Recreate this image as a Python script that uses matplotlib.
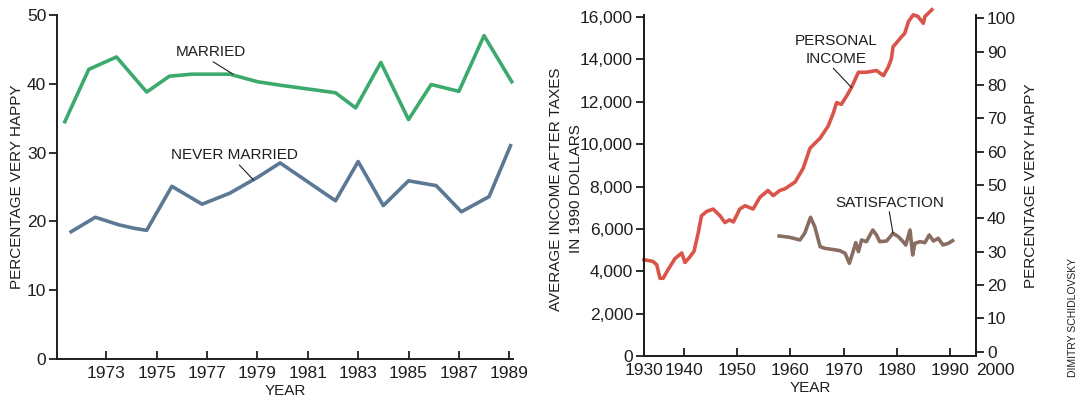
import matplotlib
matplotlib.use('Agg')
import matplotlib.pyplot as plt

plt.rcParams['font.family'] = ['Liberation Sans', 'DejaVu Sans']

# ---------------- data ----------------
married_years = [1971.35, 1972.3, 1973.4, 1974.6, 1975.5, 1976.4, 1977.9, 1979.0, 1979.9,
                 1982.1, 1982.9, 1983.9, 1985.0, 1985.9, 1987.0, 1988.0, 1989.1]
married = [34.5, 42.1, 43.9, 38.8, 41.1, 41.4, 41.4, 40.3, 39.8,
           38.7, 36.5, 43.1, 34.8, 39.9, 38.9, 47.0, 40.3]

never_years = [1971.6, 1972.56, 1973.5, 1974.1, 1974.6, 1975.6, 1976.8, 1977.9, 1979.0,
               1979.9, 1982.1, 1983.0, 1984.0, 1985.0, 1986.1, 1987.1, 1988.2, 1989.05]
never_married = [18.5, 20.6, 19.5, 19.0, 18.7, 25.1, 22.5, 24.1, 26.4,
                 28.5, 23.0, 28.7, 22.3, 25.9, 25.2, 21.4, 23.6, 31.0]

left_xticks = [1973, 1975, 1977, 1979, 1981, 1983, 1985, 1987, 1989]
left_yticks = [0, 10, 20, 30, 40, 50]

income_years = [1932.5, 1934.2, 1934.9, 1935.5, 1936.1, 1937.0, 1938.3, 1939.6, 1940.2, 1941.1,
                1941.9, 1942.7, 1943.3, 1944.3, 1945.5, 1946.8, 1947.7, 1948.6, 1949.3, 1950.5,
                1951.5, 1953.0, 1954.3, 1955.8, 1956.8, 1958.0, 1959.0, 1960.9, 1962.4, 1963.7,
                1965.6, 1967.1, 1968.1, 1968.7, 1969.6, 1970.6, 1971.5, 1972.8, 1974.3, 1976.2,
                1977.5, 1978.4, 1979.0, 1979.3, 1980.9, 1981.5, 1982.2, 1983.1, 1984.0, 1985.0,
                1985.3, 1986.6]
income = [4545, 4464, 4306, 3670, 3670, 4067, 4593, 4866, 4416, 4675,
          4943, 5823, 6617, 6828, 6938, 6617, 6301, 6426, 6330, 6938,
          7096, 6938, 7498, 7813, 7574, 7813, 7895, 8215, 8852, 9809,
          10287, 10847, 11483, 11962, 11880, 12282, 12679, 13397, 13397, 13478,
          13239, 13636, 14033, 14593, 15072, 15230, 15789, 16110, 16029, 15708,
          16029, 16349]

sat_years = [1957.9, 1959.9, 1961.8, 1962.7, 1963.8, 1964.6, 1965.6, 1966.5, 1967.8, 1969.3,
             1970.3, 1971.1, 1971.8, 1972.3, 1972.8, 1973.4, 1974.3, 1975.5, 1976.2, 1976.8,
             1978.1, 1979.3, 1980.3, 1981.2, 1981.7, 1982.5, 1983.0, 1983.4, 1984.4, 1985.3,
             1986.1, 1986.9, 1987.8, 1988.7, 1989.7, 1990.5]
satisfaction = [34.7, 34.3, 33.5, 35.5, 40.3, 37.5, 31.5, 31.0, 30.7, 30.3,
                29.5, 26.5, 30.0, 32.7, 30.0, 33.5, 33.0, 36.5, 35.0, 33.0,
                33.2, 35.5, 34.5, 33.0, 32.0, 36.5, 29.0, 32.5, 33.0, 32.7,
                35.0, 33.2, 34.0, 32.0, 32.5, 33.3]

right_xticks = [1940, 1950, 1960, 1970, 1980, 1990]
right_xlim = (1932.5, 1994.9)
right_xlabels_all = ['1930', '1940', '1950', '1960', '1970', '1980', '1990', '2000']
income_ticks = [0, 2000, 4000, 6000, 8000, 10000, 12000, 14000, 16000]
happy_ticks = [0, 10, 20, 30, 40, 50, 60, 70, 80, 90, 100]

# ---------------- style ----------------
C_MARRIED = '#3daa6d'
C_NEVER = '#5b7895'
C_INCOME = '#d9554a'
C_SAT = '#8a6d62'
INK = '#1e1e1e'
LW = 2.6
TICK_FS = 12.5
LAB_FS = 11

W, H = 1079, 396
fig = plt.figure(figsize=(W / 100, H / 100), dpi=100)


def box(x0, x1, ytop, ybot):
    return [x0 / W, 1 - ybot / H, (x1 - x0) / W, (ybot - ytop) / H]


def style(ax):
    for s in ax.spines.values():
        s.set_color(INK)
        s.set_linewidth(1.4)
    ax.tick_params(colors=INK, labelsize=TICK_FS, width=1.3, length=6, pad=2)


def leader(ax, start, end):
    ax.annotate('', xy=end, xytext=start,
                arrowprops=dict(arrowstyle='-', color=INK, lw=0.8, shrinkA=0, shrinkB=0))


# ---------------- left chart ----------------
ax1 = fig.add_axes(box(57.3, 513, 15, 359))
ax1.plot(married_years, married, color=C_MARRIED, lw=LW, clip_on=False)
ax1.plot(never_years, never_married, color=C_NEVER, lw=LW, clip_on=False)
ax1.set_xlim(1971.05, 1989.15)
ax1.set_ylim(0, 50)
ax1.set_xticks(left_xticks)
ax1.set_yticks(left_yticks)
ax1.spines['top'].set_visible(False)
ax1.spines['right'].set_visible(False)
style(ax1)
ax1.tick_params(axis='x', direction='in', pad=5)
ax1.tick_params(axis='y', direction='out')
ax1.set_xlabel('YEAR', fontsize=LAB_FS, color=INK, labelpad=2)
ax1.set_ylabel('PERCENTAGE VERY HAPPY', fontsize=LAB_FS, color=INK)
ax1.yaxis.set_label_coords(-0.072, 0.5)

ax1.text(1977.15, 44.6, 'MARRIED', ha='center', va='center', fontsize=LAB_FS, color=INK)
leader(ax1, (1977.24, 43.2), (1978.03, 41.4))
ax1.text(1978.1, 29.6, 'NEVER MARRIED', ha='center', va='center', fontsize=LAB_FS, color=INK)
leader(ax1, (1978.28, 28.2), (1978.85, 26.0))

# ---------------- right chart ----------------
ax2 = fig.add_axes(box(644, 976, 15, 356))
ax2.plot(income_years, income, color=C_INCOME, lw=LW, clip_on=False)
ax2.set_xlim(*right_xlim)
ax2.set_ylim(0, 16100)
ax2.set_xticks([right_xlim[0]] + right_xticks + [right_xlim[1]])
ax2.set_xticklabels(right_xlabels_all)
ax2.get_xticklabels()[-1].set_horizontalalignment('left')
ax2.set_yticks(income_ticks)
ax2.set_yticklabels([f'{v:,}' for v in income_ticks])
ax2.spines['top'].set_visible(False)
style(ax2)
ax2.tick_params(axis='x', direction='in', pad=5)
ax2.tick_params(axis='y', direction='out')
ax2.set_xlabel('YEAR', fontsize=LAB_FS, color=INK, labelpad=2)
ax2.set_ylabel('AVERAGE INCOME AFTER TAXES\nIN 1990 DOLLARS', fontsize=LAB_FS,
               color=INK, linespacing=1.55)
ax2.yaxis.set_label_coords(-0.185, 0.49)

ax3 = ax2.twinx()
ax3.plot(sat_years, satisfaction, color=C_SAT, lw=LW)
ax3.set_ylim(-1.3, 101)
ax3.set_yticks(happy_ticks)
ax3.spines['top'].set_visible(False)
style(ax3)
ax3.tick_params(axis='y', direction='out')
ax3.set_ylabel('PERCENTAGE VERY HAPPY', fontsize=LAB_FS, color=INK, labelpad=6)

ax2.text(1968.7, 14450, 'PERSONAL\nINCOME', ha='center', va='center', fontsize=LAB_FS,
         color=INK, linespacing=1.3)
leader(ax2, (1968.08, 13583), (1971.5, 12680))
ax3.text(1978.7, 44.7, 'SATISFACTION', ha='center', va='center', fontsize=LAB_FS, color=INK)
leader(ax3, (1978.6, 42.0), (1979.3, 35.5))

fig.text(1073 / W, 1 - 317 / H, 'DIMITRY SCHIDLOVSKY', rotation=90, ha='center', va='center',
         fontsize=7.5, color=INK)

fig.savefig('out.png', dpi=100)
